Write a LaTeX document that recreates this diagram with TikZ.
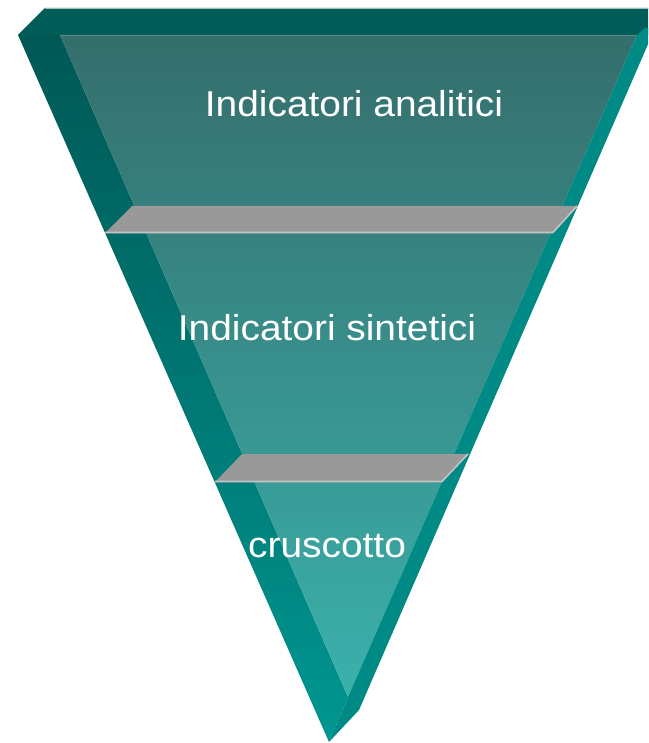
\documentclass[tikz,border=0pt]{standalone}
\usepackage{fontspec}
\setmainfont{Liberation Sans}
\definecolor{topband}{HTML}{005C59}
\definecolor{lefttop}{HTML}{005855}
\definecolor{leftbot}{HTML}{009691}
\definecolor{fronttop}{HTML}{356E6C}
\definecolor{frontbot}{HTML}{3BB1AC}
\definecolor{rightface}{HTML}{008A85}
\definecolor{slabgray}{HTML}{999999}
\definecolor{slabedge}{HTML}{C4C4C4}
\definecolor{rimline}{HTML}{9CC2C0}
\tikzset{
  label/.style={text=white, inner sep=0pt, anchor=base, font=\fontsize{36}{40}\selectfont, xscale=1.08},
  slab/.style={fill=slabgray},
  slabrim/.style={draw=slabedge, line width=1.6pt}
}
\begin{document}
\begin{tikzpicture}[x=1pt,y=-1pt]
\useasboundingbox (0,0) rectangle (648,743);
\fill[white] (0,0) rectangle (648,743);
\begin{scope}
\clip (0,0) rectangle (648,743);
% top face
\fill[topband] (45,8) -- (690,8) -- (690,35) -- (18,35) -- cycle;
\draw[rimline, line width=1pt] (45,8.5) -- (690,8.5);
% left face
\shade[top color=lefttop, bottom color=leftbot] (18,35) -- (60,35) -- (348,697) -- (329,742) -- cycle;
% front face
\shade[top color=fronttop, bottom color=frontbot] (60,35) -- (637,35) -- (348,697) -- cycle;
\draw[color=fronttop!80!white, line width=0.8pt] (60,35.4) -- (637,35.4);
% right face
\fill[rightface] (637,35) -- (645,28) -- (690,28) -- (652,35) -- (359,710) -- (329,742) -- (348,697) -- cycle;
% slab 1
\fill[slab] (105,233) -- (132,206) -- (577,206) -- (553,233) -- cycle;
\draw[slabrim] (105,232.5) -- (553,232.5) -- (577,206);
% slab 2
\fill[slab] (215,482) -- (242,454) -- (468,454) -- (442,482) -- cycle;
\draw[slabrim] (215,481.5) -- (442,481.5) -- (468,454);
\end{scope}
% labels
\node[label] (analitici) at (354,117) {Indicatori analitici};
\node[label] (sintetici) at (327,340) {Indicatori sintetici};
\node[label] (cruscotto) at (327,557) {cruscotto};
\end{tikzpicture}
\end{document}
